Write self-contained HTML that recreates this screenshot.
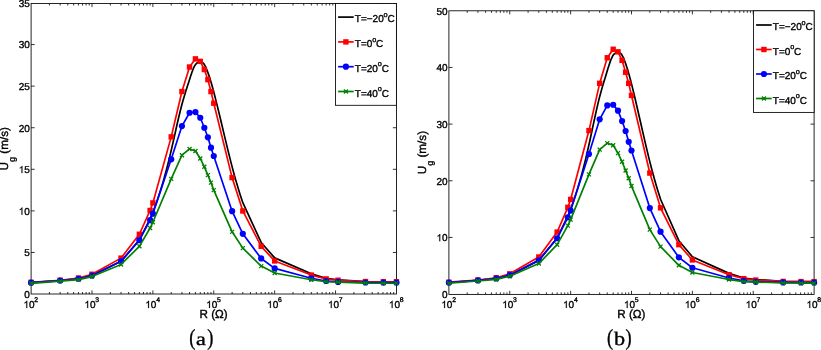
<!DOCTYPE html>
<html><head><meta charset="utf-8"><title>Ug vs R</title>
<style>
html,body{margin:0;padding:0;background:#fff;}
body{width:821px;height:350px;overflow:hidden;}
svg{display:block;will-change:transform;font-family:"Liberation Sans",sans-serif;}
text{fill:#000;stroke:#000;stroke-width:0.36px;text-rendering:geometricPrecision;}
</style></head><body>
<svg width="821" height="350" viewBox="0 0 821 350">
<rect width="821" height="350" fill="#fff"/>
<clipPath id="clipb"><rect x="444.9" y="6.8" width="373.2" height="291.6"/></clipPath>
<clipPath id="clipa"><rect x="27.1" y="-0.5" width="373.35" height="298.5"/></clipPath>
<rect x="31.1" y="3.5" width="365.35" height="290.5" fill="none" stroke="#000" stroke-width="0.85"/>
<path d="M49.43 294v-2M49.43 3.5v2M60.15 294v-2M60.15 3.5v2M67.76 294v-2M67.76 3.5v2M73.66 294v-2M73.66 3.5v2M78.48 294v-2M78.48 3.5v2M82.56 294v-2M82.56 3.5v2M86.09 294v-2M86.09 3.5v2M89.21 294v-2M89.21 3.5v2M91.99 294v-3.6M91.99 3.5v3.6M110.32 294v-2M110.32 3.5v2M121.04 294v-2M121.04 3.5v2M128.65 294v-2M128.65 3.5v2M134.55 294v-2M134.55 3.5v2M139.37 294v-2M139.37 3.5v2M143.45 294v-2M143.45 3.5v2M146.98 294v-2M146.98 3.5v2M150.1 294v-2M150.1 3.5v2M152.88 294v-3.6M152.88 3.5v3.6M171.21 294v-2M171.21 3.5v2M181.94 294v-2M181.94 3.5v2M189.54 294v-2M189.54 3.5v2M195.44 294v-2M195.44 3.5v2M200.27 294v-2M200.27 3.5v2M204.34 294v-2M204.34 3.5v2M207.87 294v-2M207.87 3.5v2M210.99 294v-2M210.99 3.5v2M213.77 294v-3.6M213.77 3.5v3.6M232.11 294v-2M232.11 3.5v2M242.83 294v-2M242.83 3.5v2M250.44 294v-2M250.44 3.5v2M256.34 294v-2M256.34 3.5v2M261.16 294v-2M261.16 3.5v2M265.23 294v-2M265.23 3.5v2M268.77 294v-2M268.77 3.5v2M271.88 294v-2M271.88 3.5v2M274.67 294v-3.6M274.67 3.5v3.6M293 294v-2M293 3.5v2M303.72 294v-2M303.72 3.5v2M311.33 294v-2M311.33 3.5v2M317.23 294v-2M317.23 3.5v2M322.05 294v-2M322.05 3.5v2M326.13 294v-2M326.13 3.5v2M329.66 294v-2M329.66 3.5v2M332.77 294v-2M332.77 3.5v2M335.56 294v-3.6M335.56 3.5v3.6M353.89 294v-2M353.89 3.5v2M364.61 294v-2M364.61 3.5v2M372.22 294v-2M372.22 3.5v2M378.12 294v-2M378.12 3.5v2M382.94 294v-2M382.94 3.5v2M387.02 294v-2M387.02 3.5v2M390.55 294v-2M390.55 3.5v2M393.66 294v-2M393.66 3.5v2M31.1 252.46h3.6M396.45 252.46h-3.6M31.1 210.88h3.6M396.45 210.88h-3.6M31.1 169.31h3.6M396.45 169.31h-3.6M31.1 127.73h3.6M396.45 127.73h-3.6M31.1 86.15h3.6M396.45 86.15h-3.6M31.1 44.57h3.6M396.45 44.57h-3.6" stroke="#000" stroke-width="0.8" fill="none"/>
<g clip-path="url(#clipa)"><path d="M31.1 282.56L60.15 280.57L78.48 278.66L91.99 275.58L121.04 261.36L139.37 239.99L150.1 218.78L152.88 212.13L154.38 208.24L155.88 204.18L157.38 199.92L158.88 195.47L160.38 190.82L161.88 185.96L163.38 180.87L164.88 175.57L166.37 170.02L167.87 164.24L169.37 158.21L170.87 151.92L172.37 145.39L173.87 138.69L175.37 131.95L176.87 125.25L178.37 118.71L179.87 112.43L181.37 106.52L182.86 101.04L184.36 95.93L185.86 91.07L187.36 86.35L188.86 81.66L190.36 76.94L191.86 72.43L193.36 68.48L194.86 65.43L196.36 63.5L197.86 62.5L199.35 62.08L200.85 61.98L202.35 62.39L203.85 63.76L205.35 66.36L206.85 69.87L208.35 73.88L209.85 78.28L211.35 83.21L212.85 88.6L214.35 94.27L215.84 100.14L217.34 106.15L218.84 112.29L220.34 118.52L221.84 124.8L223.34 131.1L224.84 137.4L226.34 143.66L227.84 149.84L229.34 155.92L230.84 161.86L232.33 167.63L233.83 173.21L235.33 178.61L236.83 183.81L238.33 188.82L239.83 193.65L241.33 198.29L242.83 202.73L261.16 242.48L274.67 257.87L311.33 273.83L326.13 278.24L338.08 279.74L365.48 281.48L383.38 281.73L396.45 281.73" fill="none" stroke="#000" stroke-width="1.7" stroke-linejoin="round"/>
<polyline points="31.1,282.32 60.15,280.24 78.48,277.99 91.99,274.25 121.04,258.12 139.37,234.25 150.1,210.47 152.88,202.9 171.21,136.88 181.94,91.56 189.54,67.02 195.44,58.87 200.27,61.37 204.34,69.52 207.87,79.66 210.99,91.56 213.77,103.2 232.11,177.62 242.83,210.97 261.16,246.31 274.67,260.94 311.33,275.08 326.13,278.91 338.08,280.24 365.48,281.57 383.38,281.73 396.45,281.73" fill="none" stroke="#f00" stroke-width="1.7" stroke-linejoin="round"/>
<g fill="#f00"><rect x="28.4" y="279.62" width="5.4" height="5.4"/><rect x="57.45" y="277.54" width="5.4" height="5.4"/><rect x="75.78" y="275.29" width="5.4" height="5.4"/><rect x="89.29" y="271.55" width="5.4" height="5.4"/><rect x="118.34" y="255.42" width="5.4" height="5.4"/><rect x="136.67" y="231.55" width="5.4" height="5.4"/><rect x="147.4" y="207.77" width="5.4" height="5.4"/><rect x="150.18" y="200.2" width="5.4" height="5.4"/><rect x="168.51" y="134.18" width="5.4" height="5.4"/><rect x="179.24" y="88.86" width="5.4" height="5.4"/><rect x="186.84" y="64.32" width="5.4" height="5.4"/><rect x="192.74" y="56.17" width="5.4" height="5.4"/><rect x="197.57" y="58.67" width="5.4" height="5.4"/><rect x="201.64" y="66.82" width="5.4" height="5.4"/><rect x="205.17" y="76.96" width="5.4" height="5.4"/><rect x="208.29" y="88.86" width="5.4" height="5.4"/><rect x="211.07" y="100.5" width="5.4" height="5.4"/><rect x="229.41" y="174.92" width="5.4" height="5.4"/><rect x="240.13" y="208.27" width="5.4" height="5.4"/><rect x="258.46" y="243.61" width="5.4" height="5.4"/><rect x="271.97" y="258.24" width="5.4" height="5.4"/><rect x="308.63" y="272.38" width="5.4" height="5.4"/><rect x="323.43" y="276.21" width="5.4" height="5.4"/><rect x="335.38" y="277.54" width="5.4" height="5.4"/><rect x="362.78" y="278.87" width="5.4" height="5.4"/><rect x="380.68" y="279.03" width="5.4" height="5.4"/><rect x="393.75" y="279.03" width="5.4" height="5.4"/></g>
<polyline points="31.1,282.65 60.15,280.57 78.48,278.74 91.99,275.58 121.04,261.36 139.37,240.15 150.1,220.03 152.88,213.63 171.21,159.33 181.94,126.06 189.54,112.76 195.44,112.09 200.27,117.75 204.34,127.73 207.87,137.29 210.99,147.69 213.77,156 232.11,211.22 242.83,233.84 261.16,258.45 274.67,268.43 311.33,278.24 326.13,280.98 338.08,281.9 365.48,282.48 383.38,282.56 396.45,282.56" fill="none" stroke="#00f" stroke-width="1.7" stroke-linejoin="round"/>
<g fill="#00f"><circle cx="31.1" cy="282.65" r="3.1"/><circle cx="60.15" cy="280.57" r="3.1"/><circle cx="78.48" cy="278.74" r="3.1"/><circle cx="91.99" cy="275.58" r="3.1"/><circle cx="121.04" cy="261.36" r="3.1"/><circle cx="139.37" cy="240.15" r="3.1"/><circle cx="150.1" cy="220.03" r="3.1"/><circle cx="152.88" cy="213.63" r="3.1"/><circle cx="171.21" cy="159.33" r="3.1"/><circle cx="181.94" cy="126.06" r="3.1"/><circle cx="189.54" cy="112.76" r="3.1"/><circle cx="195.44" cy="112.09" r="3.1"/><circle cx="200.27" cy="117.75" r="3.1"/><circle cx="204.34" cy="127.73" r="3.1"/><circle cx="207.87" cy="137.29" r="3.1"/><circle cx="210.99" cy="147.69" r="3.1"/><circle cx="213.77" cy="156" r="3.1"/><circle cx="232.11" cy="211.22" r="3.1"/><circle cx="242.83" cy="233.84" r="3.1"/><circle cx="261.16" cy="258.45" r="3.1"/><circle cx="274.67" cy="268.43" r="3.1"/><circle cx="311.33" cy="278.24" r="3.1"/><circle cx="326.13" cy="280.98" r="3.1"/><circle cx="338.08" cy="281.9" r="3.1"/><circle cx="365.48" cy="282.48" r="3.1"/><circle cx="383.38" cy="282.56" r="3.1"/><circle cx="396.45" cy="282.56" r="3.1"/></g>
<polyline points="31.1,283.31 60.15,281.15 78.48,279.65 91.99,276.58 121.04,264.44 139.37,246.31 150.1,228.01 152.88,222.28 171.21,178.87 181.94,155.17 189.54,148.93 195.44,151.01 200.27,158.5 204.34,166.81 207.87,175.13 210.99,182.61 213.77,190.1 232.11,231.84 242.83,248.14 261.16,266.1 274.67,273 311.33,279.74 326.13,281.73 338.08,282.15 365.48,283.06 383.38,283.23 396.45,283.23" fill="none" stroke="#008000" stroke-width="1.7" stroke-linejoin="round"/>
<g stroke="#008000" stroke-width="1.3" fill="none"><path d="M29.1 281.31l4 4m0 -4l-4 4"/><path d="M58.15 279.15l4 4m0 -4l-4 4"/><path d="M76.48 277.65l4 4m0 -4l-4 4"/><path d="M89.99 274.58l4 4m0 -4l-4 4"/><path d="M119.04 262.44l4 4m0 -4l-4 4"/><path d="M137.37 244.31l4 4m0 -4l-4 4"/><path d="M148.1 226.01l4 4m0 -4l-4 4"/><path d="M150.88 220.28l4 4m0 -4l-4 4"/><path d="M169.21 176.87l4 4m0 -4l-4 4"/><path d="M179.94 153.17l4 4m0 -4l-4 4"/><path d="M187.54 146.93l4 4m0 -4l-4 4"/><path d="M193.44 149.01l4 4m0 -4l-4 4"/><path d="M198.27 156.5l4 4m0 -4l-4 4"/><path d="M202.34 164.81l4 4m0 -4l-4 4"/><path d="M205.87 173.13l4 4m0 -4l-4 4"/><path d="M208.99 180.61l4 4m0 -4l-4 4"/><path d="M211.77 188.1l4 4m0 -4l-4 4"/><path d="M230.11 229.84l4 4m0 -4l-4 4"/><path d="M240.83 246.14l4 4m0 -4l-4 4"/><path d="M259.16 264.1l4 4m0 -4l-4 4"/><path d="M272.67 271l4 4m0 -4l-4 4"/><path d="M309.33 277.74l4 4m0 -4l-4 4"/><path d="M324.13 279.73l4 4m0 -4l-4 4"/><path d="M336.08 280.15l4 4m0 -4l-4 4"/><path d="M363.48 281.06l4 4m0 -4l-4 4"/><path d="M381.38 281.23l4 4m0 -4l-4 4"/><path d="M394.45 281.23l4 4m0 -4l-4 4"/></g></g>
<g transform="translate(0 308) scale(1 1) translate(0 -308)"><path transform="translate(23.5 308) scale(0.004883 -0.004883)" d="M763 0H583V1147Q518 1085 412.5 1023T223 930V1104Q374 1175 487 1276T647 1472H763Z" fill="#000" stroke="#000" stroke-width="40.96"/><text x="29.06" y="308" font-size="10">0</text></g><text x="34.37" y="301.8" font-size="6.8">2</text><g transform="translate(0 308) scale(1 1) translate(0 -308)"><path transform="translate(84.39 308) scale(0.004883 -0.004883)" d="M763 0H583V1147Q518 1085 412.5 1023T223 930V1104Q374 1175 487 1276T647 1472H763Z" fill="#000" stroke="#000" stroke-width="40.96"/><text x="89.95" y="308" font-size="10">0</text></g><text x="95.26" y="301.8" font-size="6.8">3</text><g transform="translate(0 308) scale(1 1) translate(0 -308)"><path transform="translate(145.28 308) scale(0.004883 -0.004883)" d="M763 0H583V1147Q518 1085 412.5 1023T223 930V1104Q374 1175 487 1276T647 1472H763Z" fill="#000" stroke="#000" stroke-width="40.96"/><text x="150.84" y="308" font-size="10">0</text></g><text x="156.15" y="301.8" font-size="6.8">4</text><g transform="translate(0 308) scale(1 1) translate(0 -308)"><path transform="translate(206.17 308) scale(0.004883 -0.004883)" d="M763 0H583V1147Q518 1085 412.5 1023T223 930V1104Q374 1175 487 1276T647 1472H763Z" fill="#000" stroke="#000" stroke-width="40.96"/><text x="211.73" y="308" font-size="10">0</text></g><text x="217.04" y="301.8" font-size="6.8">5</text><g transform="translate(0 308) scale(1 1) translate(0 -308)"><path transform="translate(267.07 308) scale(0.004883 -0.004883)" d="M763 0H583V1147Q518 1085 412.5 1023T223 930V1104Q374 1175 487 1276T647 1472H763Z" fill="#000" stroke="#000" stroke-width="40.96"/><text x="272.63" y="308" font-size="10">0</text></g><text x="277.94" y="301.8" font-size="6.8">6</text><g transform="translate(0 308) scale(1 1) translate(0 -308)"><path transform="translate(327.96 308) scale(0.004883 -0.004883)" d="M763 0H583V1147Q518 1085 412.5 1023T223 930V1104Q374 1175 487 1276T647 1472H763Z" fill="#000" stroke="#000" stroke-width="40.96"/><text x="333.52" y="308" font-size="10">0</text></g><text x="338.83" y="301.8" font-size="6.8">7</text><g transform="translate(0 308) scale(1 1) translate(0 -308)"><path transform="translate(388.85 308) scale(0.004883 -0.004883)" d="M763 0H583V1147Q518 1085 412.5 1023T223 930V1104Q374 1175 487 1276T647 1472H763Z" fill="#000" stroke="#000" stroke-width="40.96"/><text x="394.41" y="308" font-size="10">0</text></g><text x="399.72" y="301.8" font-size="6.8">8</text><g transform="translate(0 297.84) scale(1 1) translate(0 -297.84)"><text x="24.24" y="297.84" font-size="10">0</text></g><g transform="translate(0 256.26) scale(1 1) translate(0 -256.26)"><text x="24.24" y="256.26" font-size="10">5</text></g><g transform="translate(0 214.68) scale(1 1) translate(0 -214.68)"><path transform="translate(18.68 214.68) scale(0.004883 -0.004883)" d="M763 0H583V1147Q518 1085 412.5 1023T223 930V1104Q374 1175 487 1276T647 1472H763Z" fill="#000" stroke="#000" stroke-width="40.96"/><text x="24.24" y="214.68" font-size="10">0</text></g><g transform="translate(0 173.11) scale(1 1) translate(0 -173.11)"><path transform="translate(18.68 173.11) scale(0.004883 -0.004883)" d="M763 0H583V1147Q518 1085 412.5 1023T223 930V1104Q374 1175 487 1276T647 1472H763Z" fill="#000" stroke="#000" stroke-width="40.96"/><text x="24.24" y="173.11" font-size="10">5</text></g><g transform="translate(0 131.53) scale(1 1) translate(0 -131.53)"><text x="18.68" y="131.53" font-size="10">20</text></g><g transform="translate(0 89.95) scale(1 1) translate(0 -89.95)"><text x="18.68" y="89.95" font-size="10">25</text></g><g transform="translate(0 48.37) scale(1 1) translate(0 -48.37)"><text x="18.68" y="48.37" font-size="10">30</text></g><g transform="translate(0 6.79) scale(1 1) translate(0 -6.79)"><text x="18.68" y="6.79" font-size="10">35</text></g>
<text x="213.6" y="318.25" font-size="11.7" text-anchor="middle" stroke-width="0.45">R (Ω)</text>
<text transform="translate(8.3 148.75) rotate(-90)" font-size="11.7" text-anchor="middle" stroke-width="0.45">U<tspan font-size="9" dy="6.6">g</tspan><tspan dy="-6.6"> (m/s)</tspan></text>
<g font-family="Liberation Serif, serif" stroke-width="0.2"><text transform="translate(189.3 344.6) scale(0.8 1)" font-size="23">(</text><text transform="translate(196 344.5) scale(1.2 1)" font-size="18.4">a</text><text transform="translate(207.3 344.6) scale(0.8 1)" font-size="23">)</text></g>
<rect x="335.5" y="3.5" width="60.9" height="101.8" fill="#fff" stroke="#000" stroke-width="0.85"/><path d="M338.1 17.1H353.7" stroke="#000" stroke-width="1.7"/><text transform="translate(354.8 22.25) scale(1 1)" font-size="10">T=−20<tspan font-size="7.3" dy="-5.4" dx="-0.1">o</tspan><tspan dy="5.4" dx="-0.2">C</tspan></text><path d="M338.1 41.9H353.7" stroke="#f00" stroke-width="1.7"/><rect x="343.2" y="39.2" width="5.4" height="5.4" fill="#f00"/><text transform="translate(354.8 47.05) scale(1 1)" font-size="10">T=0<tspan font-size="7.3" dy="-5.4" dx="-0.1">o</tspan><tspan dy="5.4" dx="-0.2">C</tspan></text><path d="M338.1 66.7H353.7" stroke="#00f" stroke-width="1.7"/><circle cx="345.9" cy="66.7" r="3.1" fill="#00f"/><text transform="translate(354.8 71.85) scale(1 1)" font-size="10">T=20<tspan font-size="7.3" dy="-5.4" dx="-0.1">o</tspan><tspan dy="5.4" dx="-0.2">C</tspan></text><path d="M338.1 91.5H353.7" stroke="#008000" stroke-width="1.7"/><path d="M343.9 89.5l4 4m0 -4l-4 4" stroke="#008000" stroke-width="1.3" fill="none"/><text transform="translate(354.8 96.65) scale(1 1)" font-size="10">T=40<tspan font-size="7.3" dy="-5.4" dx="-0.1">o</tspan><tspan dy="5.4" dx="-0.2">C</tspan></text>
<rect x="448.9" y="10.8" width="365.2" height="283.6" fill="none" stroke="#000" stroke-width="0.85"/>
<path d="M467.22 294.4v-2M467.22 10.8v2M477.94 294.4v-2M477.94 10.8v2M485.55 294.4v-2M485.55 10.8v2M491.44 294.4v-2M491.44 10.8v2M496.26 294.4v-2M496.26 10.8v2M500.34 294.4v-2M500.34 10.8v2M503.87 294.4v-2M503.87 10.8v2M506.98 294.4v-2M506.98 10.8v2M509.77 294.4v-3.6M509.77 10.8v3.6M528.09 294.4v-2M528.09 10.8v2M538.81 294.4v-2M538.81 10.8v2M546.41 294.4v-2M546.41 10.8v2M552.31 294.4v-2M552.31 10.8v2M557.13 294.4v-2M557.13 10.8v2M561.2 294.4v-2M561.2 10.8v2M564.73 294.4v-2M564.73 10.8v2M567.85 294.4v-2M567.85 10.8v2M570.63 294.4v-3.6M570.63 10.8v3.6M588.96 294.4v-2M588.96 10.8v2M599.67 294.4v-2M599.67 10.8v2M607.28 294.4v-2M607.28 10.8v2M613.18 294.4v-2M613.18 10.8v2M618 294.4v-2M618 10.8v2M622.07 294.4v-2M622.07 10.8v2M625.6 294.4v-2M625.6 10.8v2M628.71 294.4v-2M628.71 10.8v2M631.5 294.4v-3.6M631.5 10.8v3.6M649.82 294.4v-2M649.82 10.8v2M660.54 294.4v-2M660.54 10.8v2M668.15 294.4v-2M668.15 10.8v2M674.04 294.4v-2M674.04 10.8v2M678.86 294.4v-2M678.86 10.8v2M682.94 294.4v-2M682.94 10.8v2M686.47 294.4v-2M686.47 10.8v2M689.58 294.4v-2M689.58 10.8v2M692.37 294.4v-3.6M692.37 10.8v3.6M710.69 294.4v-2M710.69 10.8v2M721.41 294.4v-2M721.41 10.8v2M729.01 294.4v-2M729.01 10.8v2M734.91 294.4v-2M734.91 10.8v2M739.73 294.4v-2M739.73 10.8v2M743.8 294.4v-2M743.8 10.8v2M747.33 294.4v-2M747.33 10.8v2M750.45 294.4v-2M750.45 10.8v2M753.23 294.4v-3.6M753.23 10.8v3.6M771.56 294.4v-2M771.56 10.8v2M782.27 294.4v-2M782.27 10.8v2M789.88 294.4v-2M789.88 10.8v2M795.78 294.4v-2M795.78 10.8v2M800.6 294.4v-2M800.6 10.8v2M804.67 294.4v-2M804.67 10.8v2M808.2 294.4v-2M808.2 10.8v2M811.31 294.4v-2M811.31 10.8v2M448.9 237.46h3.6M814.1 237.46h-3.6M448.9 180.79h3.6M814.1 180.79h-3.6M448.9 124.12h3.6M814.1 124.12h-3.6M448.9 67.45h3.6M814.1 67.45h-3.6" stroke="#000" stroke-width="0.8" fill="none"/>
<g clip-path="url(#clipb)"><path d="M448.9 282.48L477.94 280.4L496.26 278.41L509.77 275.2L538.81 260.38L557.13 238.09L567.85 215.98L570.63 209.05L572.13 204.99L573.63 200.75L575.13 196.32L576.63 191.68L578.13 186.83L579.62 181.75L581.12 176.45L582.62 170.92L584.12 165.14L585.62 159.11L587.12 152.82L588.61 146.26L590.11 139.45L591.61 132.47L593.11 125.44L594.61 118.46L596.11 111.64L597.61 105.09L599.1 98.92L600.6 93.21L602.1 87.88L603.6 82.81L605.1 77.9L606.6 73.01L608.09 68.08L609.59 63.39L611.09 59.27L612.59 56.08L614.09 54.08L615.59 53.03L617.09 52.6L618.58 52.49L620.08 52.92L621.58 54.34L623.08 57.05L624.58 60.72L626.08 64.89L627.57 69.49L629.07 74.62L630.57 80.24L632.07 86.16L633.57 92.27L635.07 98.54L636.57 104.94L638.06 111.44L639.56 117.99L641.06 124.56L642.56 131.13L644.06 137.65L645.56 144.1L647.05 150.43L648.55 156.63L650.05 162.65L651.55 168.47L653.05 174.09L654.55 179.52L656.05 184.74L657.54 189.78L659.04 194.61L660.54 199.25L678.86 240.69L692.37 256.73L729.01 273.38L743.8 277.98L755.75 279.54L783.14 281.36L801.03 281.62L814.1 281.62" fill="none" stroke="#000" stroke-width="1.7" stroke-linejoin="round"/>
<polyline points="448.9,282.22 477.94,280.06 496.26,277.72 509.77,273.81 538.81,256.99 557.13,232.11 567.85,207.31 570.63,199.42 588.96,130.58 599.67,83.32 607.28,57.75 613.18,49.25 618,51.85 622.07,60.35 625.6,72.23 628.71,83.32 631.5,95.46 649.82,173.06 660.54,207.83 678.86,244.68 692.37,259.94 729.01,274.68 743.8,278.67 755.75,280.06 783.14,281.44 801.03,281.62 814.1,281.62" fill="none" stroke="#f00" stroke-width="1.7" stroke-linejoin="round"/>
<g fill="#f00"><rect x="446.2" y="279.52" width="5.4" height="5.4"/><rect x="475.24" y="277.36" width="5.4" height="5.4"/><rect x="493.56" y="275.02" width="5.4" height="5.4"/><rect x="507.07" y="271.11" width="5.4" height="5.4"/><rect x="536.11" y="254.29" width="5.4" height="5.4"/><rect x="554.43" y="229.41" width="5.4" height="5.4"/><rect x="565.15" y="204.61" width="5.4" height="5.4"/><rect x="567.93" y="196.72" width="5.4" height="5.4"/><rect x="586.26" y="127.88" width="5.4" height="5.4"/><rect x="596.97" y="80.62" width="5.4" height="5.4"/><rect x="604.58" y="55.05" width="5.4" height="5.4"/><rect x="610.48" y="46.55" width="5.4" height="5.4"/><rect x="615.3" y="49.15" width="5.4" height="5.4"/><rect x="619.37" y="57.65" width="5.4" height="5.4"/><rect x="622.9" y="69.53" width="5.4" height="5.4"/><rect x="626.01" y="80.62" width="5.4" height="5.4"/><rect x="628.8" y="92.76" width="5.4" height="5.4"/><rect x="647.12" y="170.36" width="5.4" height="5.4"/><rect x="657.84" y="205.13" width="5.4" height="5.4"/><rect x="676.16" y="241.98" width="5.4" height="5.4"/><rect x="689.67" y="257.24" width="5.4" height="5.4"/><rect x="726.31" y="271.98" width="5.4" height="5.4"/><rect x="741.1" y="275.97" width="5.4" height="5.4"/><rect x="753.05" y="277.36" width="5.4" height="5.4"/><rect x="780.44" y="278.74" width="5.4" height="5.4"/><rect x="798.33" y="278.92" width="5.4" height="5.4"/><rect x="811.4" y="278.92" width="5.4" height="5.4"/></g>
<polyline points="448.9,282.57 477.94,280.4 496.26,278.5 509.77,275.2 538.81,260.38 557.13,238.27 567.85,217.28 570.63,210.61 588.96,153.99 599.67,119.31 607.28,105.43 613.18,104.74 618,110.64 622.07,121.04 625.6,131.01 628.71,141.85 631.5,150.52 649.82,208.09 660.54,231.68 678.86,257.34 692.37,267.74 729.01,277.98 743.8,280.84 755.75,281.79 783.14,282.4 801.03,282.48 814.1,282.48" fill="none" stroke="#00f" stroke-width="1.7" stroke-linejoin="round"/>
<g fill="#00f"><circle cx="448.9" cy="282.57" r="3.1"/><circle cx="477.94" cy="280.4" r="3.1"/><circle cx="496.26" cy="278.5" r="3.1"/><circle cx="509.77" cy="275.2" r="3.1"/><circle cx="538.81" cy="260.38" r="3.1"/><circle cx="557.13" cy="238.27" r="3.1"/><circle cx="567.85" cy="217.28" r="3.1"/><circle cx="570.63" cy="210.61" r="3.1"/><circle cx="588.96" cy="153.99" r="3.1"/><circle cx="599.67" cy="119.31" r="3.1"/><circle cx="607.28" cy="105.43" r="3.1"/><circle cx="613.18" cy="104.74" r="3.1"/><circle cx="618" cy="110.64" r="3.1"/><circle cx="622.07" cy="121.04" r="3.1"/><circle cx="625.6" cy="131.01" r="3.1"/><circle cx="628.71" cy="141.85" r="3.1"/><circle cx="631.5" cy="150.52" r="3.1"/><circle cx="649.82" cy="208.09" r="3.1"/><circle cx="660.54" cy="231.68" r="3.1"/><circle cx="678.86" cy="257.34" r="3.1"/><circle cx="692.37" cy="267.74" r="3.1"/><circle cx="729.01" cy="277.98" r="3.1"/><circle cx="743.8" cy="280.84" r="3.1"/><circle cx="755.75" cy="281.79" r="3.1"/><circle cx="783.14" cy="282.4" r="3.1"/><circle cx="801.03" cy="282.48" r="3.1"/><circle cx="814.1" cy="282.48" r="3.1"/></g>
<polyline points="448.9,283.27 477.94,281.01 496.26,279.45 509.77,276.24 538.81,263.58 557.13,244.68 567.85,225.61 570.63,219.62 588.96,174.36 599.67,149.65 607.28,143.15 613.18,145.32 618,153.12 622.07,161.79 625.6,170.46 628.71,178.27 631.5,186.07 649.82,229.59 660.54,246.59 678.86,265.32 692.37,272.51 729.01,279.54 743.8,281.62 755.75,282.05 783.14,283 801.03,283.18 814.1,283.18" fill="none" stroke="#008000" stroke-width="1.7" stroke-linejoin="round"/>
<g stroke="#008000" stroke-width="1.3" fill="none"><path d="M446.9 281.27l4 4m0 -4l-4 4"/><path d="M475.94 279.01l4 4m0 -4l-4 4"/><path d="M494.26 277.45l4 4m0 -4l-4 4"/><path d="M507.77 274.24l4 4m0 -4l-4 4"/><path d="M536.81 261.58l4 4m0 -4l-4 4"/><path d="M555.13 242.68l4 4m0 -4l-4 4"/><path d="M565.85 223.61l4 4m0 -4l-4 4"/><path d="M568.63 217.62l4 4m0 -4l-4 4"/><path d="M586.96 172.36l4 4m0 -4l-4 4"/><path d="M597.67 147.65l4 4m0 -4l-4 4"/><path d="M605.28 141.15l4 4m0 -4l-4 4"/><path d="M611.18 143.32l4 4m0 -4l-4 4"/><path d="M616 151.12l4 4m0 -4l-4 4"/><path d="M620.07 159.79l4 4m0 -4l-4 4"/><path d="M623.6 168.46l4 4m0 -4l-4 4"/><path d="M626.71 176.27l4 4m0 -4l-4 4"/><path d="M629.5 184.07l4 4m0 -4l-4 4"/><path d="M647.82 227.59l4 4m0 -4l-4 4"/><path d="M658.54 244.59l4 4m0 -4l-4 4"/><path d="M676.86 263.32l4 4m0 -4l-4 4"/><path d="M690.37 270.51l4 4m0 -4l-4 4"/><path d="M727.01 277.54l4 4m0 -4l-4 4"/><path d="M741.8 279.62l4 4m0 -4l-4 4"/><path d="M753.75 280.05l4 4m0 -4l-4 4"/><path d="M781.14 281l4 4m0 -4l-4 4"/><path d="M799.03 281.18l4 4m0 -4l-4 4"/><path d="M812.1 281.18l4 4m0 -4l-4 4"/></g></g>
<g transform="translate(0 308) scale(1 1) translate(0 -308)"><path transform="translate(441.3 308) scale(0.004883 -0.004883)" d="M763 0H583V1147Q518 1085 412.5 1023T223 930V1104Q374 1175 487 1276T647 1472H763Z" fill="#000" stroke="#000" stroke-width="40.96"/><text x="446.86" y="308" font-size="10">0</text></g><text x="452.17" y="301.8" font-size="6.8">2</text><g transform="translate(0 308) scale(1 1) translate(0 -308)"><path transform="translate(502.17 308) scale(0.004883 -0.004883)" d="M763 0H583V1147Q518 1085 412.5 1023T223 930V1104Q374 1175 487 1276T647 1472H763Z" fill="#000" stroke="#000" stroke-width="40.96"/><text x="507.73" y="308" font-size="10">0</text></g><text x="513.04" y="301.8" font-size="6.8">3</text><g transform="translate(0 308) scale(1 1) translate(0 -308)"><path transform="translate(563.03 308) scale(0.004883 -0.004883)" d="M763 0H583V1147Q518 1085 412.5 1023T223 930V1104Q374 1175 487 1276T647 1472H763Z" fill="#000" stroke="#000" stroke-width="40.96"/><text x="568.59" y="308" font-size="10">0</text></g><text x="573.9" y="301.8" font-size="6.8">4</text><g transform="translate(0 308) scale(1 1) translate(0 -308)"><path transform="translate(623.9 308) scale(0.004883 -0.004883)" d="M763 0H583V1147Q518 1085 412.5 1023T223 930V1104Q374 1175 487 1276T647 1472H763Z" fill="#000" stroke="#000" stroke-width="40.96"/><text x="629.46" y="308" font-size="10">0</text></g><text x="634.77" y="301.8" font-size="6.8">5</text><g transform="translate(0 308) scale(1 1) translate(0 -308)"><path transform="translate(684.77 308) scale(0.004883 -0.004883)" d="M763 0H583V1147Q518 1085 412.5 1023T223 930V1104Q374 1175 487 1276T647 1472H763Z" fill="#000" stroke="#000" stroke-width="40.96"/><text x="690.33" y="308" font-size="10">0</text></g><text x="695.64" y="301.8" font-size="6.8">6</text><g transform="translate(0 308) scale(1 1) translate(0 -308)"><path transform="translate(745.63 308) scale(0.004883 -0.004883)" d="M763 0H583V1147Q518 1085 412.5 1023T223 930V1104Q374 1175 487 1276T647 1472H763Z" fill="#000" stroke="#000" stroke-width="40.96"/><text x="751.19" y="308" font-size="10">0</text></g><text x="756.5" y="301.8" font-size="6.8">7</text><g transform="translate(0 308) scale(1 1) translate(0 -308)"><path transform="translate(806.5 308) scale(0.004883 -0.004883)" d="M763 0H583V1147Q518 1085 412.5 1023T223 930V1104Q374 1175 487 1276T647 1472H763Z" fill="#000" stroke="#000" stroke-width="40.96"/><text x="812.06" y="308" font-size="10">0</text></g><text x="817.37" y="301.8" font-size="6.8">8</text><g transform="translate(0 297.93) scale(1 1) translate(0 -297.93)"><text x="442.04" y="297.93" font-size="10">0</text></g><g transform="translate(0 241.26) scale(1 1) translate(0 -241.26)"><path transform="translate(436.48 241.26) scale(0.004883 -0.004883)" d="M763 0H583V1147Q518 1085 412.5 1023T223 930V1104Q374 1175 487 1276T647 1472H763Z" fill="#000" stroke="#000" stroke-width="40.96"/><text x="442.04" y="241.26" font-size="10">0</text></g><g transform="translate(0 184.59) scale(1 1) translate(0 -184.59)"><text x="436.48" y="184.59" font-size="10">20</text></g><g transform="translate(0 127.92) scale(1 1) translate(0 -127.92)"><text x="436.48" y="127.92" font-size="10">30</text></g><g transform="translate(0 71.25) scale(1 1) translate(0 -71.25)"><text x="436.48" y="71.25" font-size="10">40</text></g><g transform="translate(0 14.58) scale(1 1) translate(0 -14.58)"><text x="436.48" y="14.58" font-size="10">50</text></g>
<text x="631.4" y="318.25" font-size="11.7" text-anchor="middle" stroke-width="0.45">R (Ω)</text>
<text transform="translate(426.1 152.6) rotate(-90)" font-size="11.7" text-anchor="middle" stroke-width="0.45">U<tspan font-size="9" dy="6.6">g</tspan><tspan dy="-6.6"> (m/s)</tspan></text>
<g font-family="Liberation Serif, serif" stroke-width="0.2"><text transform="translate(606.9 344.6) scale(0.8 1)" font-size="23">(</text><text transform="translate(614 344.5) scale(1.15 1)" font-size="19.3">b</text><text transform="translate(625.5 344.6) scale(0.8 1)" font-size="23">)</text></g>
<rect x="753.5" y="10.8" width="60.6" height="101.6" fill="#fff" stroke="#000" stroke-width="0.85"/><path d="M756.1 25H771.7" stroke="#000" stroke-width="1.7"/><text transform="translate(772.8 30.15) scale(1 1)" font-size="10">T=−20<tspan font-size="7.3" dy="-5.4" dx="-0.1">o</tspan><tspan dy="5.4" dx="-0.2">C</tspan></text><path d="M756.1 49.5H771.7" stroke="#f00" stroke-width="1.7"/><rect x="761.2" y="46.8" width="5.4" height="5.4" fill="#f00"/><text transform="translate(772.8 54.65) scale(1 1)" font-size="10">T=0<tspan font-size="7.3" dy="-5.4" dx="-0.1">o</tspan><tspan dy="5.4" dx="-0.2">C</tspan></text><path d="M756.1 74H771.7" stroke="#00f" stroke-width="1.7"/><circle cx="763.9" cy="74" r="3.1" fill="#00f"/><text transform="translate(772.8 79.15) scale(1 1)" font-size="10">T=20<tspan font-size="7.3" dy="-5.4" dx="-0.1">o</tspan><tspan dy="5.4" dx="-0.2">C</tspan></text><path d="M756.1 98.5H771.7" stroke="#008000" stroke-width="1.7"/><path d="M761.9 96.5l4 4m0 -4l-4 4" stroke="#008000" stroke-width="1.3" fill="none"/><text transform="translate(772.8 103.65) scale(1 1)" font-size="10">T=40<tspan font-size="7.3" dy="-5.4" dx="-0.1">o</tspan><tspan dy="5.4" dx="-0.2">C</tspan></text>
</svg>
</body></html>
